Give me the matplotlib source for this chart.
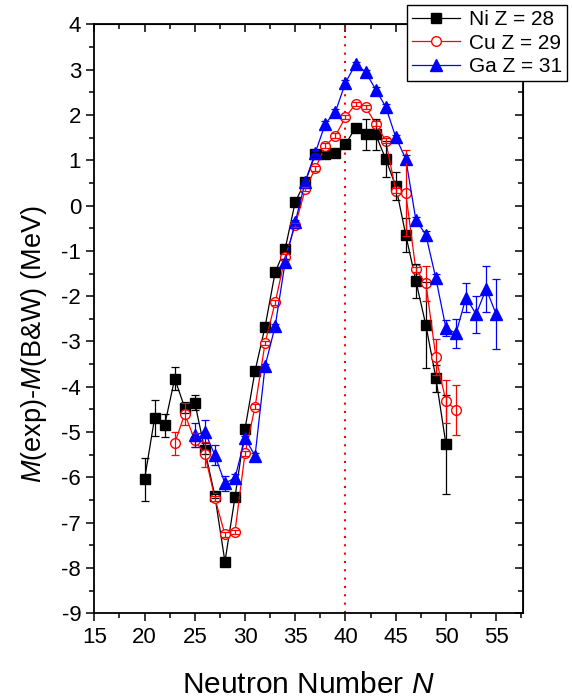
import numpy as np
import matplotlib
matplotlib.use("Agg")
import matplotlib.pyplot as plt
from matplotlib.ticker import MultipleLocator

plt.rcParams['font.family'] = ['Liberation Sans', 'DejaVu Sans']
plt.rcParams['mathtext.fontset'] = 'custom'
plt.rcParams['mathtext.rm'] = 'Liberation Sans'
plt.rcParams['mathtext.it'] = 'Liberation Sans:italic'
plt.rcParams['axes.unicode_minus'] = False

# Ni Z = 28
ni_n = np.arange(20, 51)
ni_m = [-6.04, -4.69, -4.85, -3.82, -4.46, -4.35, -5.40, -6.41, -7.86, -6.44,
        -4.93, -3.65, -2.67, -1.47, -0.95, 0.08, 0.53, 1.13, 1.13, 1.17,
        1.35, 1.72, 1.57, 1.57, 1.03, 0.43, -0.65, -1.66, -2.64, -3.81, -5.27]
ni_err = [0.47, 0.39, 0.25, 0.25, 0.12, 0.16, 0.08, 0.05, 0.05, 0.05,
          0.05, 0.05, 0.05, 0.05, 0.05, 0.05, 0.05, 0.05, 0.05, 0.05,
          0.05, 0.05, 0.34, 0.34, 0.39, 0.30, 0.37, 0.37, 0.95, 0.30, 1.09]

# Cu Z = 29
cu_n = np.arange(23, 52)
cu_m = [-5.25, -4.60, -5.18, -5.49, -6.46, -7.26, -7.20, -5.47, -4.44, -3.03,
        -2.14, -1.13, -0.43, 0.36, 0.82, 1.32, 1.54, 1.95, 2.24, 2.17,
        1.81, 1.43, 0.33, 0.27, -1.41, -1.72, -3.35, -4.32, -4.51]
cu_err = [0.26, 0.25, 0.15, 0.28, 0.05, 0.05, 0.05, 0.05, 0.05, 0.05,
          0.05, 0.05, 0.05, 0.05, 0.05, 0.05, 0.05, 0.05, 0.05, 0.05,
          0.05, 0.05, 0.05, 0.95, 0.05, 0.39, 0.40, 0.47, 0.55]

# Ga Z = 31
ga_n = np.arange(25, 56)
ga_m = [-5.07, -4.99, -5.51, -6.13, -6.01, -5.14, -5.52, -3.54, -2.66, -1.24,
        -0.36, 0.53, 1.17, 1.81, 2.07, 2.71, 3.12, 2.95, 2.56, 2.18,
        1.51, 1.03, -0.31, -0.65, -1.61, -2.71, -2.82, -2.03, -2.40, -1.84, -2.40]
ga_err = [0.27, 0.25, 0.22, 0.17, 0.08, 0.05, 0.05, 0.05, 0.05, 0.05,
          0.05, 0.05, 0.05, 0.05, 0.05, 0.05, 0.05, 0.05, 0.05, 0.05,
          0.05, 0.08, 0.05, 0.08, 0.10, 0.18, 0.32, 0.33, 0.41, 0.51, 0.77]

fig = plt.figure(figsize=(5.72, 6.98), dpi=100)
ax = fig.add_axes([0.1649, 0.1213, 0.75, 0.8439])

series = [
    (ni_n, ni_m, ni_err, 'black', 's', 'black', 7, 'Ni Z = 28'),
    (cu_n, cu_m, cu_err, 'red', 'o', 'white', 7, 'Cu Z = 29'),
    (ga_n, ga_m, ga_err, 'blue', '^', 'blue', 8, 'Ga Z = 31'),
]
for n, m, err, col, mk, face, ms, lab in series:
    ax.plot(n, m, color=col, lw=0.9, marker=mk, ms=ms, mfc=face, mec=col,
            mew=1.0, label=lab, zorder=3)
    # bars drawn over the markers, which gives the crossed open circles
    ax.errorbar(n, m, yerr=err, fmt='none', ecolor=col, elinewidth=0.9,
                capsize=3, capthick=0.9, zorder=4)

ax.axvline(40, color='red', ls=(0, (1, 3)), lw=1.5, zorder=2)

ax.set_xlim(15, 57.7)
ax.set_ylim(-9, 4)
ax.xaxis.set_major_locator(MultipleLocator(5))
ax.xaxis.set_minor_locator(MultipleLocator(2.5))
ax.yaxis.set_major_locator(MultipleLocator(1))
ax.yaxis.set_minor_locator(MultipleLocator(0.5))
ax.tick_params(which='major', direction='out', length=6, width=1.1, labelsize=16)
ax.tick_params(which='minor', direction='out', length=3.5, width=1.1)
for s in ax.spines.values():
    s.set_linewidth(1.3)

top = ax.secondary_xaxis('top')
top.xaxis.set_major_locator(MultipleLocator(5))
top.xaxis.set_minor_locator(MultipleLocator(2.5))
top.tick_params(which='both', direction='in', labeltop=False, width=1.1)
top.tick_params(which='major', length=6)
top.tick_params(which='minor', length=3.5)
right = ax.secondary_yaxis('right')
right.yaxis.set_major_locator(MultipleLocator(1))
right.yaxis.set_minor_locator(MultipleLocator(0.5))
right.tick_params(which='both', direction='in', labelright=False, width=1.1)
right.tick_params(which='major', length=6)
right.tick_params(which='minor', length=3.5)

ax.set_xlabel(r'Neutron Number $N$', fontsize=21.5, labelpad=17)
ax.set_ylabel(r'$M$(exp)-$M$(B&W) (MeV)', fontsize=19.5)
ax.yaxis.set_label_coords(-0.106, 0.457)

leg = fig.legend(loc='upper right', bbox_to_anchor=(0.991, 0.993), fontsize=15,
                 frameon=True, fancybox=False, edgecolor='black', framealpha=1,
                 handlelength=2.3, labelspacing=0.22, borderpad=0.25,
                 handletextpad=0.4, borderaxespad=0)
leg.get_frame().set_linewidth(1.0)

fig.savefig('out.png', dpi=100)
